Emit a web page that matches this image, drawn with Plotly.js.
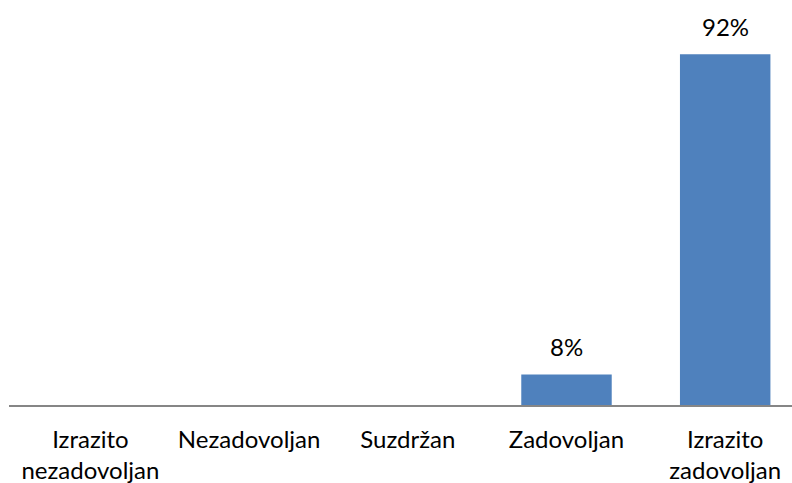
<!DOCTYPE html>
<html>
<head>
<meta charset="utf-8">
<script src="https://cdn.plot.ly/plotly-3.0.1.min.js"></script>
<style>html,body{margin:0;padding:0;background:#fff;}#chart{width:792px;height:483px;}</style>
</head>
<body>
<div id="chart"></div>
<script>
const categories = ["Izrazito<br>nezadovoljan", "Nezadovoljan", "Suzdržan", "Zadovoljan", "Izrazito<br>zadovoljan"];
const values = [0, 0, 0, 8, 92];
const labelText = ["", "", "", "8%", "92%"];

const FONT = "Lato, 'Open Sans', sans-serif";

const trace = {
  type: "bar",
  x: categories,
  y: values,
  marker: {color: "#4F81BD"},
  hoverinfo: "none"
};

const annotations = [];
categories.forEach((c, i) => {
  if (labelText[i]) {
    annotations.push({
      x: c, y: values[i], xref: "x", yref: "y",
      text: labelText[i], showarrow: false,
      yanchor: "bottom", yshift: 11,
      font: {family: FONT, size: 24, color: "#000"}
    });
  }
});

const layout = {
  width: 792, height: 483,
  margin: {l: 9, r: 0, t: 0, b: 78},
  paper_bgcolor: "#fff", plot_bgcolor: "#fff",
  bargap: 0.43,
  showlegend: false,
  xaxis: {
    type: "category",
    range: [-0.513, 4.421],
    showline: true, linecolor: "#868686", linewidth: 2,
    showgrid: false, zeroline: false,
    ticks: "", ticklabelstandoff: 12,
    tickfont: {family: FONT, size: 24, color: "#000"},
    fixedrange: true
  },
  yaxis: {
    range: [0, 106.2],
    visible: false, showgrid: false, zeroline: false,
    fixedrange: true
  },
  annotations: annotations
};

Plotly.newPlot("chart", [trace], layout, {displayModeBar: false, staticPlot: true});
</script>
</body>
</html>
